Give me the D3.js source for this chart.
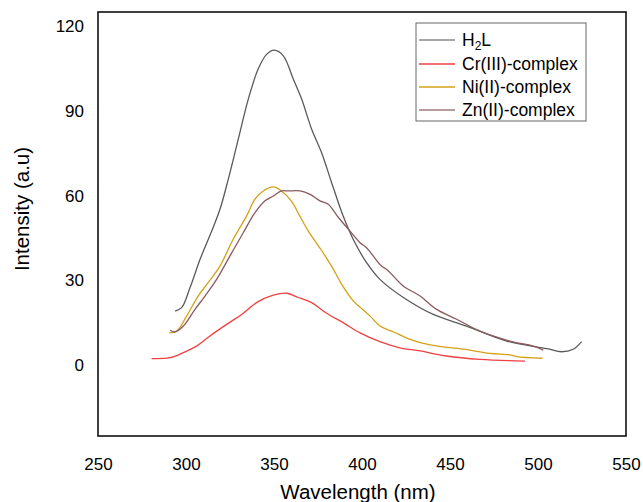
<!DOCTYPE html>
<html><head><meta charset="utf-8">
<script src="https://cdn.jsdelivr.net/npm/d3@7"></script>
<style>body{margin:0;background:#fff}svg{display:block;font-family:"Liberation Sans",Arial,sans-serif}</style>
</head><body><svg id="c" width="643" height="502"></svg>
<script>
const xTicks = [250,300,350,400,450,500,550];
const yTicks = [0,30,60,90,120];
const seriesNames = ["H2L","Cr(III)-complex","Ni(II)-complex","Zn(II)-complex"];
const seriesColors = ["#5a5a5a","#f04040","#d4a017","#8a5a5e"];

const h2l = [[293.8,19.2],[297.5,20.4],[302.3,27.5],[308,37.5],[314.6,47.5],[319.3,55.2],[324,65.8],[329.7,80],[335.4,94.2],[341,104.8],[345.8,110],[350.2,111.5],[355.3,109.5],[361,101.2],[365.7,94.2],[371.4,83.5],[377,75.3],[382.7,64.7],[389.3,52.8],[395,44.6],[402.6,36.3],[410.2,30.4],[423.5,24],[440.5,18],[459.4,13.9],[482.2,8.6],[505,5.9],[513.4,4.8],[520,5.7],[524.8,8.4]];
const cr = [[280.4,2.4],[290.9,2.7],[298.5,4.5],[306,6.8],[313.6,10.4],[323.1,14.5],[331.6,18],[340.1,22.2],[349.6,24.8],[357.2,25.5],[363.8,24],[371.4,22.2],[379.9,18.4],[389.3,15.1],[398.9,11.5],[410.2,8.4],[421.6,6.2],[433,5.1],[448,3.3],[467,2.1],[492.6,1.5]];
const ni = [[290.5,11.5],[294.7,12.1],[300.4,17.5],[306.9,24.5],[312.6,29.3],[319.3,35.1],[326.8,44.6],[334.4,52.8],[339.2,58.8],[343.9,61.7],[349.6,63.1],[354.3,61.7],[360,58],[364.7,52.8],[369.5,47.5],[376.1,41.5],[382.7,35.1],[388.4,28.7],[395,22.8],[399,20.5],[404.5,17.5],[410.2,13.9],[418,11.8],[427.3,9.2],[438.6,7.2],[457.5,5.7],[472.7,4.2],[484,3.7],[487.9,3.1],[502.6,2.5]];
const zn = [[290.9,12.4],[293.8,11.8],[298.5,13.9],[305.1,19.8],[310.8,24.5],[317.4,30.4],[325,38.7],[332.6,47],[339.2,54],[344.9,58.2],[349.6,59.9],[354.3,61.7],[358.1,61.7],[364.8,61.7],[370.5,60.5],[376.1,58.2],[380.8,57],[386.6,52.3],[393.2,47.5],[398.9,43.4],[402.6,41.6],[410.2,35.7],[415,33.4],[423.4,28.1],[433,24.5],[442.4,19.8],[453.8,16.3],[467,12.1],[484,8.6],[497.3,6.8],[503,5.4]];
const allSeries = [h2l, cr, ni, zn];

const svg = d3.select("#c");
const L=98, R=626, T=12, B=436;
const x = d3.scaleLinear().domain([250,550]).range([L,R]);
const y = d3.scaleLinear().domain([-25,125]).range([B,T]);

svg.append("rect").attr("x",L).attr("y",T).attr("width",R-L).attr("height",B-T)
  .attr("fill","none").attr("stroke","#000").attr("stroke-width",1.5);

const xa = svg.append("g").attr("transform",`translate(0,${B})`)
  .call(d3.axisBottom(x).tickValues(xTicks).tickSize(0).tickPadding(22).tickFormat(d3.format("d")));
xa.select(".domain").remove();
xa.selectAll("text").attr("font-size",17).attr("fill","#000").attr("font-family","Liberation Sans, Arial, sans-serif");
const ya = svg.append("g").attr("transform",`translate(${L},0)`)
  .call(d3.axisLeft(y).tickValues(yTicks).tickSize(0).tickPadding(14).tickFormat(d3.format("d")));
ya.select(".domain").remove();
ya.selectAll("text").attr("font-size",17).attr("fill","#000").attr("font-family","Liberation Sans, Arial, sans-serif");

svg.append("text").attr("x",(L+R)/2-4).attr("y",499).attr("text-anchor","middle")
  .attr("font-size",20.5).text("Wavelength (nm)");
svg.append("text").attr("transform",`translate(29,209) rotate(-90)`).attr("text-anchor","middle")
  .attr("font-size",20.5).text("Intensity (a.u)");

const line = d3.line().x(d=>x(d[0])).y(d=>y(d[1])).curve(d3.curveCatmullRom.alpha(0.5));
allSeries.forEach((s,i)=>{
  svg.append("path").attr("d",line(s)).attr("fill","none")
    .attr("stroke",seriesColors[i]).attr("stroke-width",1.3);
});

const lg = svg.append("g");
lg.append("rect").attr("x",416).attr("y",23).attr("width",170).attr("height",98)
  .attr("fill","#fff").attr("stroke","#666").attr("stroke-width",1);
const rowY = [40,64,87,110];
const legColors = ["#8a8a8a","#f04040","#d4a017","#a07a7e"];
seriesNames.forEach((n,i)=>{
  lg.append("line").attr("x1",419).attr("x2",455).attr("y1",rowY[i]).attr("y2",rowY[i])
    .attr("stroke",legColors[i]).attr("stroke-width",1.3);
  const t = lg.append("text").attr("x",462).attr("y",rowY[i]+6).attr("font-size",17.5);
  if (n==="H2L") {
    t.append("tspan").text("H");
    t.append("tspan").attr("font-size",12).attr("dy",4).text("2");
    t.append("tspan").attr("dy",-4).text("L");
  } else t.text(n);
});
</script></body></html>
